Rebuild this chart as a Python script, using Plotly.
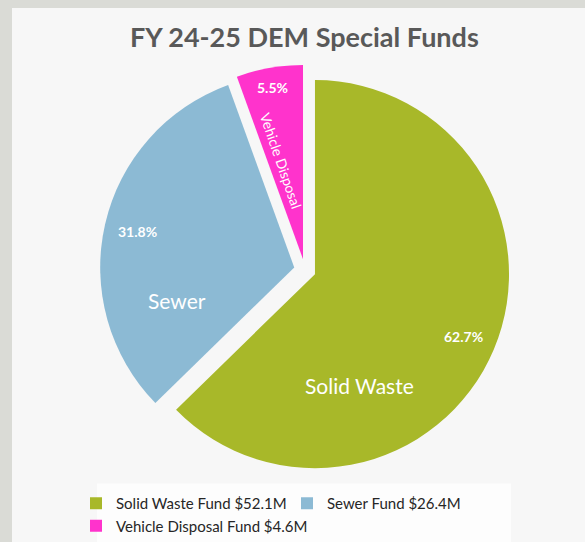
import math
import plotly.graph_objects as go

# ---- data ----
legend_labels = ["Solid Waste Fund $52.1M", "Sewer Fund $26.4M", "Vehicle Disposal Fund $4.6M"]
short_labels = ["Solid Waste", "Sewer", "Vehicle Disposal"]
values = [52.1, 26.4, 4.6]

# ---- style ----
colors = ["#A8B829", "#8CBAD4", "#FF33CC"]
W, H = 585, 542
pull = 0.0563
dom_x = [98.4 / W, 511.4 / W]
dom_y = [1 - 478.4 / H, 1 - 65.4 / H]
pct_r = [0.823, 0.82, 0.898]        # radial position of percent labels (fraction of radius)
lab_frac = [0.702, 0.25, 0.37]      # angular position inside slice (fraction of slice)
lab_r = [0.615, 0.624, 0.52]        # radial position of category labels
lab_size = [21, 21, 14]
lab_angle = [0, 0, 71]
FONT = "Lato"

fig = go.Figure()
fig.add_trace(go.Pie(
    labels=legend_labels,
    values=values,
    sort=False,
    direction="clockwise",
    rotation=0,
    pull=[pull] * len(values),
    marker=dict(colors=colors, line=dict(width=0)),
    textinfo="none",
    hoverinfo="label+percent",
    domain=dict(x=dom_x, y=dom_y),
))

# geometry used by plotly for the pie
bw = (dom_x[1] - dom_x[0]) * W
bh = (dom_y[1] - dom_y[0]) * H
R = min(bw, bh) / (2 + 2 * pull)
cx = W * (dom_x[0] + dom_x[1]) / 2
cy = H * (1 - (dom_y[0] + dom_y[1]) / 2)

total = sum(values)
annotations = []
start = 0.0
for i, v in enumerate(values):
    frac = v / total
    a0 = start * 2 * math.pi
    a1 = (start + frac) * 2 * math.pi
    mid = (a0 + a1) / 2
    ex = cx + pull * R * math.sin(mid)
    ey = cy - pull * R * math.cos(mid)
    # percent label
    px = ex + pct_r[i] * R * math.sin(mid)
    py = ey - pct_r[i] * R * math.cos(mid)
    annotations.append(dict(
        x=px / W, y=1 - py / H, xref="paper", yref="paper",
        text="<b>%.1f%%</b>" % (frac * 100), showarrow=False,
        font=dict(family=FONT, size=14, color="white"),
        xanchor="center", yanchor="middle"))
    # category label
    la = a0 + lab_frac[i] * (a1 - a0)
    lx = ex + lab_r[i] * R * math.sin(la)
    ly = ey - lab_r[i] * R * math.cos(la)
    annotations.append(dict(
        x=lx / W, y=1 - ly / H, xref="paper", yref="paper",
        text=short_labels[i], showarrow=False, textangle=lab_angle[i],
        font=dict(family=FONT, size=lab_size[i], color="white"),
        xanchor="center", yanchor="middle"))
    start += frac

annotations.append(dict(
    x=304 / W, y=1 - 37 / H, xref="paper", yref="paper",
    text="<b>FY 24-25 DEM Special Funds</b>", showarrow=False,
    font=dict(family=FONT, size=27, color="#595959"),
    xanchor="center", yanchor="middle"))

shapes = [
    dict(type="rect", xref="paper", yref="paper", x0=12 / W, x1=1.02, y0=-0.02, y1=1 - 8 / H,
         fillcolor="#F7F7F7", line=dict(width=0), layer="below"),
    dict(type="rect", xref="paper", yref="paper", x0=97 / W, x1=511 / W, y0=-0.02, y1=1 - 487 / H,
         fillcolor="#FDFDFD", line=dict(width=0), layer="below"),
]

fig.update_layout(
    width=W, height=H,
    margin=dict(l=0, r=0, t=0, b=0),
    paper_bgcolor="#DADBD6",
    plot_bgcolor="rgba(0,0,0,0)",
    showlegend=True,
    legend=dict(
        orientation="h", x=76 / W, y=1 - 491 / H, xanchor="left", yanchor="top",
        font=dict(family=FONT, size=15, color="#262626"),
        entrywidth=166, entrywidthmode="pixels",
        bgcolor="rgba(0,0,0,0)", traceorder="normal",
    ),
    annotations=annotations,
    shapes=shapes,
)

fig.write_html("out.html")
